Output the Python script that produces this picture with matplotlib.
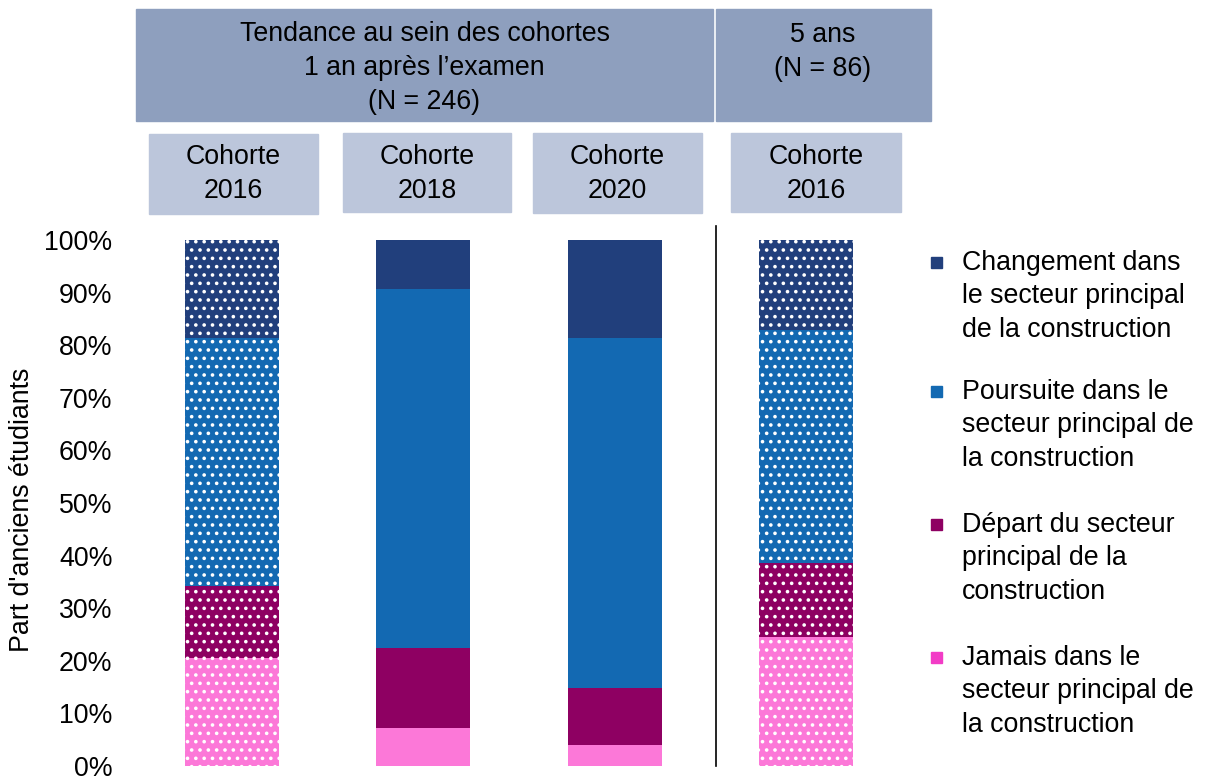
import numpy as np
import matplotlib
matplotlib.use('Agg')
import matplotlib.pyplot as plt
from matplotlib.patches import Rectangle

# data (percent of former students)
cohorts = ['Cohorte\n2016', 'Cohorte\n2018', 'Cohorte\n2020', 'Cohorte\n2016']
jamais = [20.5, 7.2, 4.0, 24.5]
depart = [13.7, 15.2, 10.8, 14.1]
poursuite = [47.2, 68.3, 66.6, 44.3]
changement = [18.6, 9.3, 18.6, 17.1]
yticks = [0, 10, 20, 30, 40, 50, 60, 70, 80, 90, 100]

labels = ['Changement dans\nle secteur principal\nde la construction',
          'Poursuite dans le\nsecteur principal de\nla construction',
          'Départ du secteur\nprincipal de la\nconstruction',
          'Jamais dans le\nsecteur principal de\nla construction']

col_chg = '#213F7C'
col_pou = '#1369B2'
col_dep = '#8E0062'
col_jam = '#FC78D8'
col_jam_leg = '#F23CC6'
dotted = [True, False, False, True]

plt.rcParams['font.family'] = ['Liberation Sans', 'DejaVu Sans']
plt.rcParams['hatch.color'] = 'white'
plt.rcParams['hatch.linewidth'] = 1.4
FS = 19.3

W, H = 1208, 776
fig = plt.figure(figsize=(W / 100, H / 100), dpi=100)

def px(x0, y0, x1, y1):
    # pixel box (top-left origin) -> figure fraction rectangle
    return x0 / W, 1 - y1 / H, (x1 - x0) / W, (y1 - y0) / H

ax = fig.add_axes(px(136, 240, 902, 766))
x = np.arange(len(cohorts))
bw = 0.49

segs = [(jamais, col_jam), (depart, col_dep), (poursuite, col_pou), (changement, col_chg)]
bottom = np.zeros(len(cohorts))
for vals, c in segs:
    vals = np.array(vals)
    for i in range(len(x)):
        ax.bar(x[i], vals[i], bw, bottom=bottom[i], color=c,
               hatch='..' if dotted[i] else None,
               edgecolor='white' if dotted[i] else c, linewidth=0)
    bottom += vals

ax.set_xlim(-0.5, 3.5)
ax.set_ylim(0, 100)
ax.set_yticks(yticks)
ax.set_yticklabels(['%d%%' % t for t in yticks], fontsize=FS)
ax.tick_params(axis='y', length=0, pad=17)
ax.set_xticks([])
for s in ax.spines.values():
    s.set_visible(False)
ax.plot([2.53, 2.53], [0, 102.6], color='black', lw=1.2, clip_on=False)

fig.text(22 / W, 1 - 510 / H, "Part d'anciens étudiants", rotation=90,
         ha='center', va='center', fontsize=FS)

# header boxes
for box in [(136, 9, 713, 121), (716, 9, 931, 121)]:
    r = px(*box)
    fig.patches.append(Rectangle(r[:2], *r[2:], transform=fig.transFigure, color='#8E9FBE'))
fig.text(424.5 / W, 1 - 68 / H, 'Tendance au sein des cohortes\n1 an après l’examen\n(N = 246)',
         ha='center', va='center', fontsize=FS, linespacing=1.42)
fig.text(823 / W, 1 - 52 / H, '5 ans\n(N = 86)',
         ha='center', va='center', fontsize=FS, linespacing=1.42)

small = [(149, 134, 318, 214), (343, 133, 511, 212), (533, 133, 702, 213), (731, 133, 901, 212)]
for (x0, y0, x1, y1), lab in zip(small, cohorts):
    r = px(x0, y0, x1, y1)
    fig.patches.append(Rectangle(r[:2], *r[2:], transform=fig.transFigure, color='#BCC6DB'))
    fig.text((x0 + x1) / 2 / W, 1 - 174 / H, lab, ha='center', va='center',
             fontsize=FS, linespacing=1.35)

# legend
leg_cols = [col_chg, col_pou, col_dep, col_jam_leg]
tops = [262, 391, 524, 657]
for lab, c, yc in zip(labels, leg_cols, tops):
    r = px(931, yc - 5, 942, yc + 6)
    fig.patches.append(Rectangle(r[:2], *r[2:], transform=fig.transFigure, color=c))
    fig.text(962 / W, 1 - (yc - 12) / H, lab, ha='left', va='top',
             fontsize=FS, linespacing=1.37)

plt.savefig('out.png', dpi=100)
